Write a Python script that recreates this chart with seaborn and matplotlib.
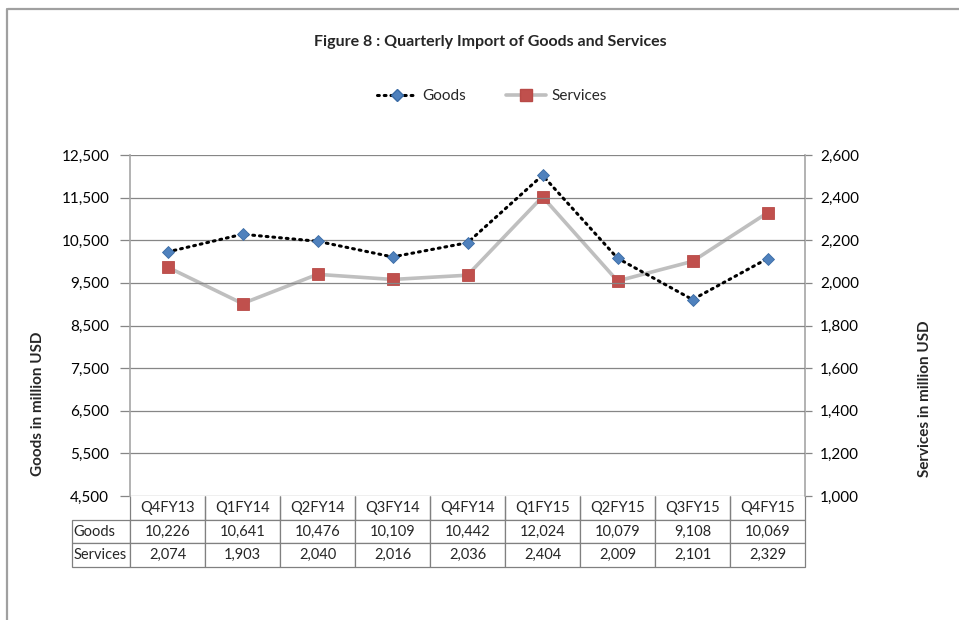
import matplotlib
matplotlib.use('Agg')
import matplotlib.pyplot as plt
import seaborn as sns
import pandas as pd
from matplotlib.lines import Line2D

quarters = ['Q4FY13', 'Q1FY14', 'Q2FY14', 'Q3FY14', 'Q4FY14',
            'Q1FY15', 'Q2FY15', 'Q3FY15', 'Q4FY15']
goods = [10226, 10641, 10476, 10109, 10442, 12024, 10079, 9108, 10069]
services = [2074, 1903, 2040, 2016, 2036, 2404, 2009, 2101, 2329]
goods_ticks = [4500, 5500, 6500, 7500, 8500, 9500, 10500, 11500, 12500]
services_ticks = [1000, 1200, 1400, 1600, 1800, 2000, 2200, 2400, 2600]

df = pd.DataFrame({'quarter': quarters, 'Goods': goods, 'Services': services})
df['x'] = range(len(df))

sns.set_style('white')
plt.rcParams['font.family'] = ['Lato', 'DejaVu Sans']

fig = plt.figure(figsize=(9.59, 6.2), dpi=100)
ax = fig.add_axes([130 / 959, 1 - 496 / 620, 675 / 959, 341 / 620])
ax2 = ax.twinx()

# services on secondary axis, drawn first so goods sits on top
sns.lineplot(data=df, x='x', y='Services', ax=ax2, color='#BFBFBF', linewidth=2.6,
             marker='s', markersize=8, markerfacecolor='#C0504D',
             markeredgecolor='#B84A47', markeredgewidth=0.6, zorder=2)
sns.lineplot(data=df, x='x', y='Goods', ax=ax, color='black', linewidth=2.2,
             linestyle=(0, (0.6, 1.6)), dash_capstyle='round',
             marker='D', markersize=6.5, markerfacecolor='#4F81BD',
             markeredgecolor='#3A6BA5', markeredgewidth=0.6, zorder=3)
ax.set_zorder(ax2.get_zorder() + 1)
ax.patch.set_visible(False)

ax.set_xlim(-0.5, len(quarters) - 0.5)
ax.set_ylim(4500, 12500)
ax2.set_ylim(1000, 2600)
ax.set_yticks(goods_ticks)
ax.set_yticklabels([f'{v:,}' for v in goods_ticks])
ax2.set_yticks(services_ticks)
ax2.set_yticklabels([f'{v:,}' for v in services_ticks])
ax.set_xticks([])
ax.set_xlabel('')

ax.grid(axis='y', color='#868686', linewidth=0.9)
ax2.grid(False)
ax.tick_params(axis='y', length=7, width=0.9, color='#868686', pad=8,
               labelsize=11, labelcolor='black', left=True)
ax2.tick_params(axis='y', length=5, width=0.9, color='#868686', pad=6,
                labelsize=11, labelcolor='black', right=True)

for a in (ax, ax2):
    for s in a.spines.values():
        s.set_visible(False)
ax.spines['left'].set_visible(True)
ax.spines['left'].set_color('#A6A6A6')
ax.spines['left'].set_linewidth(1.2)
ax2.spines['right'].set_visible(True)
ax2.spines['right'].set_color('#A6A6A6')
ax2.spines['right'].set_linewidth(1.2)

ax.set_ylabel('Goods in million USD', fontsize=11, fontweight='bold')
ax.yaxis.set_label_coords(-0.126, 0.27)
ax2.set_ylabel('Services in million USD', fontsize=11, fontweight='bold', rotation=90)
ax2.yaxis.set_label_coords(1.167, 0.285)

# data table below the plot
cell_text = [[''] + quarters,
             ['Goods'] + [f'{v:,}' for v in goods],
             ['Services'] + [f'{v:,}' for v in services]]
widths = [58 / 733] + [75 / 733] * len(quarters)
tbl = ax.table(cellText=cell_text, colWidths=widths, cellLoc='center',
               bbox=[-58 / 675, -71 / 341, 733 / 675, 71 / 341])
tbl.auto_set_font_size(False)
tbl.set_fontsize(10.5)
for (r, c), cell in tbl.get_celld().items():
    cell.set_edgecolor('#808080')
    cell.set_linewidth(0.9)
    if c == 0:
        cell.set_text_props(ha='left')
        cell.PAD = 0.03
    if r == 0 and c == 0:
        cell.visible_edges = ''
    elif r == 0:
        cell.visible_edges = 'BRL'

fig.text(490 / 959, 1 - 42 / 620, 'Figure 8 : Quarterly Import of Goods and Services',
         ha='center', va='center', fontsize=11.5, fontweight='bold')

handles = [Line2D([], [], color='black', linewidth=2.2, linestyle=(0, (0.6, 1.6)),
                  dash_capstyle='round', marker='D', markersize=6,
                  markerfacecolor='#4F81BD', markeredgecolor='#3A6BA5'),
           Line2D([], [], color='#BFBFBF', linewidth=2.6, marker='s', markersize=8,
                  markerfacecolor='#C0504D', markeredgecolor='#B84A47')]
fig.legend(handles, ['Goods', 'Services'], loc='center', ncol=2,
           bbox_to_anchor=(492 / 959, 1 - 96 / 620), frameon=False, fontsize=11,
           handlelength=2.6, columnspacing=2.6, handletextpad=0.4)

# outer chart border (top and left visible)
fig.add_artist(Line2D([8 / 959, 1], [1 - 9 / 620, 1 - 9 / 620], color='#A0A0A0',
                      linewidth=1.6, transform=fig.transFigure))
fig.add_artist(Line2D([7 / 959, 7 / 959], [0, 1 - 9 / 620], color='#A0A0A0',
                      linewidth=1.6, transform=fig.transFigure))

fig.savefig('out.png', dpi=100, facecolor='white')
